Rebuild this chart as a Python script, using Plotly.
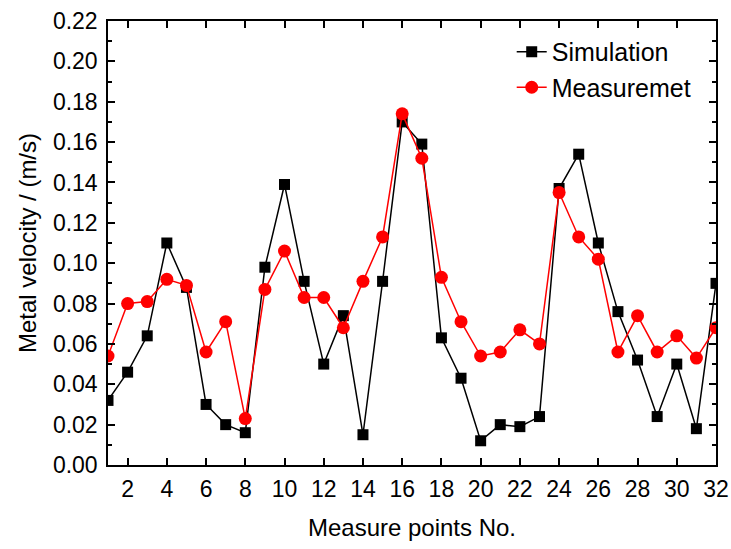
import plotly.graph_objects as go

points = list(range(1, 33))
simulation = [0.032, 0.046, 0.064, 0.110, 0.088, 0.030, 0.020, 0.016, 0.098, 0.139,
              0.091, 0.050, 0.074, 0.015, 0.091, 0.170, 0.159, 0.063, 0.043, 0.012,
              0.020, 0.019, 0.024, 0.137, 0.154, 0.110, 0.076, 0.052, 0.024, 0.050,
              0.018, 0.090]
measurement = [0.054, 0.080, 0.081, 0.092, 0.089, 0.056, 0.071, 0.023, 0.087, 0.106,
               0.083, 0.083, 0.068, 0.091, 0.113, 0.174, 0.152, 0.093, 0.071, 0.054,
               0.056, 0.067, 0.060, 0.135, 0.113, 0.102, 0.056, 0.074, 0.056, 0.064,
               0.053, 0.068]
x_ticks = list(range(2, 33, 2))
y_ticks = [round(0.02 * i, 2) for i in range(12)]

FONT = "Liberation Sans, Arial, sans-serif"

fig = go.Figure()
fig.add_trace(go.Scatter(
    x=points, y=simulation, name="Simulation", mode="lines+markers",
    line=dict(color="black", width=1.5),
    marker=dict(symbol="square", size=11, color="black")))
fig.add_trace(go.Scatter(
    x=points, y=measurement, name="Measuremet", mode="lines+markers",
    line=dict(color="#ff0000", width=1.5),
    marker=dict(symbol="circle", size=13, color="#ff0000")))

axis_common = dict(showline=True, linecolor="black", linewidth=1.5, mirror="ticks",
                   ticks="inside", tickcolor="black", tickwidth=1.5, ticklen=7,
                   showgrid=False, zeroline=False, automargin=False,
                   tickfont=dict(family=FONT, size=23, color="black"),
                   title_font=dict(family=FONT, size=24, color="black"))

fig.update_xaxes(range=[1, 32], tickvals=x_ticks, ticklabelstandoff=3,
                 title_text="Measure points No.", title_standoff=18, **axis_common)
fig.update_yaxes(range=[0, 0.22], tickvals=y_ticks, tickformat=".2f",
                 ticklabelstandoff=4,
                 title_text="Metal velocity / (m/s)", title_standoff=9,
                 minor=dict(ticks="inside", ticklen=4, tickwidth=1.5, tickcolor="black",
                            dtick=0.01, tick0=0, showgrid=False),
                 **axis_common)

fig.update_layout(
    width=731, height=549,
    margin=dict(l=108, r=15, t=21, b=84),
    plot_bgcolor="white", paper_bgcolor="white",
    font=dict(family=FONT, color="black"),
    legend=dict(x=0.664, y=0.982, xanchor="left", yanchor="top",
                bgcolor="rgba(0,0,0,0)", borderwidth=0,
                font=dict(family=FONT, size=25, color="black")),
)

fig.write_html("out.html")
